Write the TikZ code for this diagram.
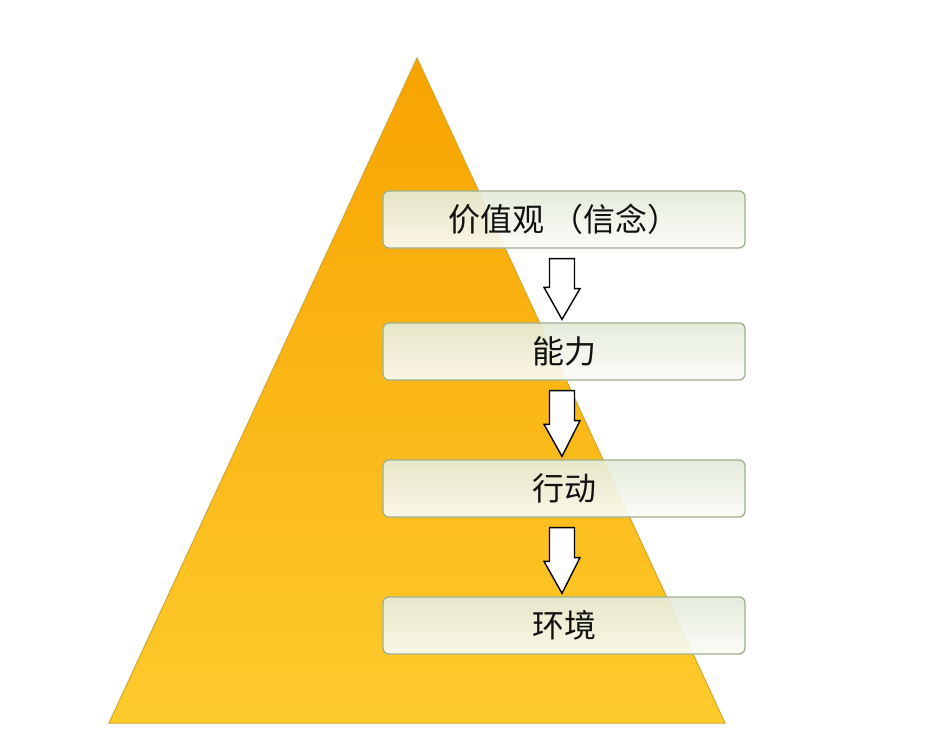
\documentclass[tikz,border=0pt]{standalone}
\usepackage{fontspec}
\newfontfamily\cjk{Noto Sans CJK SC}
\usetikzlibrary{calc}
\definecolor{triTop}{HTML}{F8A300}
\definecolor{triBot}{HTML}{FDCB2C}
\definecolor{triEdge}{HTML}{D4A52E}
\definecolor{boxTop}{HTML}{E4EBD9}
\definecolor{boxBot}{HTML}{FBFCF7}
\definecolor{boxEdge}{HTML}{9FB08E}
\definecolor{txt}{HTML}{111111}
\tikzset{
  levelbox/.style={rectangle, rounded corners=6pt, minimum width=362pt, minimum height=57pt,
    draw=boxEdge, line width=1.3pt, top color=boxTop, bottom color=boxBot, fill opacity=0.92,
    text opacity=1, inner sep=0pt, font=\cjk\fontsize{32}{36}\selectfont, text=txt},
  blockarrow/.style={draw=black, line width=1.4pt, fill=white, line join=miter}
}
\begin{document}
\begin{tikzpicture}[x=1pt,y=-1pt]
\useasboundingbox[fill=white] (0,0) rectangle (942,755);
% pyramid
\shade[top color=triTop, bottom color=triBot, draw=triEdge, line width=1pt]
  (417,58) -- (725,723) -- (109,723) -- cycle;
% boxes
\node[levelbox] (b1) at (564,219.5) {价值观 （信念）};
\node[levelbox] (b2) at (564,351.5) {能力};
\node[levelbox] (b3) at (564,488.5) {行动};
\node[levelbox] (b4) at (564,625.5) {环境};
% arrows
\foreach \u/\v in {b1/b2, b2/b3, b3/b4}{
  \coordinate (t-\u) at ($(\u.south)+(-2,10)$);
  \draw[blockarrow] (t-\u) ++(-12.5,0) -- ++(25,0) -- ++(0,30) -- ++(5.5,0)
     -- ($(\v.north)+(-2,-3)$) -- ++(-18,-32) -- ++(5.5,0) -- cycle;
}
\end{tikzpicture}
\end{document}
